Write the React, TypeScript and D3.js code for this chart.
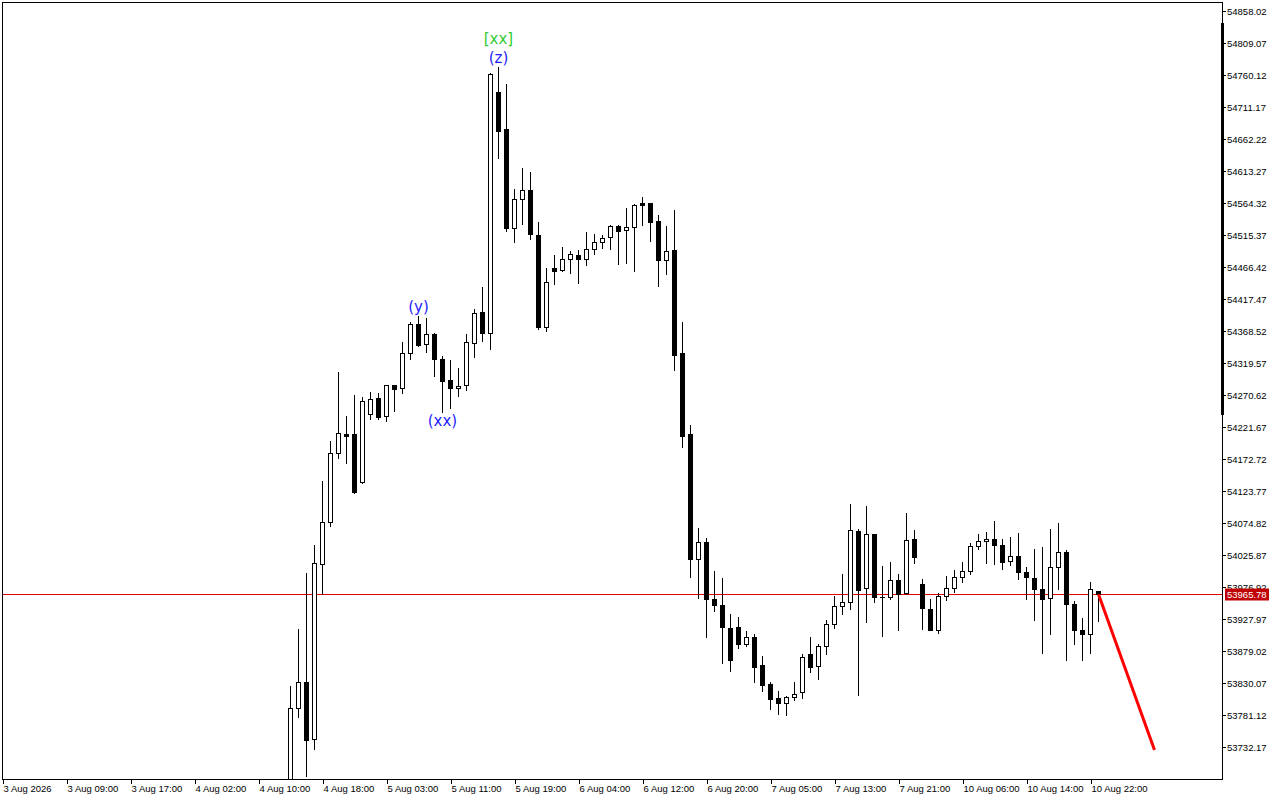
import React, { useRef, useEffect } from "react";
import * as d3 from "d3";

// hourly candles, first one sits in bar slot 36 (3 Aug 2026 00:00 = slot 0)
const FIRST_BAR = 36;

const opens = [
  53651.10, 53791.36, 53831.14, 53743.94, 54012.10, 54075.89, 54181.44, 54210.96, 54210.96, 54137.08,
  54241.10, 54265.57, 54238.49, 54285.46, 54280.87, 54334.41, 54378.77, 54348.17, 54363.47, 54325.23,
  54293.11, 54280.87, 54285.92, 54349.70, 54397.58, 54365.00, 54733.66, 54677.06, 54525.62, 54569.98,
  54583.75, 54515.37, 54374.18, 54464.89, 54461.37, 54478.20, 54484.32, 54478.20, 54493.50, 54504.20,
  54511.85, 54528.68, 54523.48, 54527.15, 54564.32, 54564.32, 54536.79, 54476.67, 54492.42, 54335.32,
  54210.96, 54020.21, 54045.29, 53958.10, 53948.92, 53913.74, 53915.27, 53889.26, 53899.97, 53857.14,
  53828.08, 53806.66, 53799.01, 53808.19, 53815.84, 53874.43, 53856.53, 53886.20, 53919.86, 53947.39,
  53953.51, 54062.12, 53974.93, 54057.53, 53961.16, 53961.16, 53987.16, 53967.28, 54049.88, 53981.05,
  53942.80, 53910.68, 53962.69, 53974.93, 53991.75, 54000.93, 54039.18, 54046.82, 54049.88, 54040.70,
  54016.23, 54023.88, 53999.40, 53990.22, 53973.40, 53959.63, 54007.05, 54030.00, 53950.45, 53910.68,
  53904.56, 53970.34,
];

const highs = [
  53825.48, 53912.67, 53997.87, 54041.16, 54139.06, 54200.25, 54305.34, 54238.49, 54270.62, 54268.02,
  54274.75, 54273.22, 54285.92, 54285.92, 54351.23, 54382.75, 54391.92, 54387.95, 54365.46, 54330.28,
  54324.16, 54312.38, 54363.47, 54402.17, 54435.37, 54762.72, 54772.82, 54745.90, 54585.74, 54617.86,
  54611.74, 54535.26, 54464.89, 54484.78, 54497.01, 54491.35, 54492.42, 54519.96, 54516.90, 54514.91,
  54531.13, 54531.13, 54556.67, 54562.79, 54573.50, 54564.32, 54545.96, 54529.14, 54553.61, 54382.75,
  54224.73, 54066.71, 54051.41, 54001.39, 53991.14, 53935.61, 53931.03, 53909.61, 53905.02, 53871.37,
  53832.05, 53817.83, 53810.18, 53831.59, 53874.43, 53900.43, 53889.72, 53926.44, 53963.15, 53996.80,
  54103.42, 54065.18, 54100.36, 54057.53, 54009.04, 54015.16, 53996.80, 54089.65, 54063.65, 53988.69,
  53958.10, 53967.28, 53993.74, 54002.92, 54015.16, 54043.76, 54057.53, 54060.59, 54077.42, 54049.88,
  54052.94, 54059.06, 54007.05, 54034.59, 54037.64, 54065.18, 54074.36, 54033.06, 53955.04, 53929.04,
  53984.11, 53970.34,
];

const lows = [
  53635.80, 53778.51, 53687.80, 53728.65, 53965.75, 54070.69, 54174.71, 54167.06, 54121.47, 54136.00,
  54233.45, 54233.45, 54231.31, 54246.60, 54274.14, 54325.23, 54345.57, 54336.85, 54300.14, 54245.07,
  54250.27, 54269.09, 54277.81, 54328.29, 54353.22, 54340.98, 54632.70, 54521.95, 54505.12, 54532.66,
  54509.71, 54371.58, 54368.98, 54440.87, 54460.30, 54457.70, 54442.40, 54469.94, 54485.85, 54495.94,
  54494.41, 54471.47, 54473.00, 54460.76, 54531.13, 54506.19, 54437.36, 54455.71, 54308.86, 54190.62,
  53991.75, 53959.63, 53899.97, 53940.66, 53860.20, 53848.88, 53884.06, 53886.66, 53832.05, 53818.29,
  53790.75, 53783.10, 53781.11, 53804.06, 53807.12, 53846.43, 53836.18, 53873.97, 53913.74, 53935.16,
  53942.80, 53811.71, 53923.84, 53953.51, 53901.50, 53958.10, 53911.60, 53965.75, 54013.17, 53912.21,
  53910.68, 53906.09, 53956.57, 53968.81, 53984.11, 53996.34, 54034.59, 54013.17, 54011.64, 54003.99,
  54010.11, 53988.69, 53958.10, 53925.98, 53875.50, 53904.56, 53973.40, 53864.79, 53890.18, 53864.79,
  53875.50, 53924.45,
];

const closes = [
  53791.37, 53831.14, 53742.41, 54013.17, 54076.81, 54181.44, 54212.03, 54208.36, 54122.70, 54260.98,
  54264.04, 54236.51, 54285.46, 54279.34, 54335.32, 54378.77, 54347.10, 54363.47, 54325.23, 54292.49,
  54280.87, 54284.39, 54351.23, 54395.60, 54365.00, 54761.19, 54674.92, 54525.62, 54570.44, 54583.75,
  54516.44, 54375.10, 54443.02, 54460.76, 54478.20, 54485.85, 54478.20, 54493.50, 54504.20, 54510.32,
  54528.68, 54521.95, 54527.15, 54561.26, 54561.26, 54535.72, 54477.59, 54490.90, 54332.27, 54208.36,
  54019.29, 54045.29, 53958.10, 53948.92, 53915.27, 53864.79, 53889.26, 53899.97, 53855.00, 53827.46,
  53806.05, 53799.01, 53808.19, 53812.78, 53869.38, 53855.00, 53886.20, 53919.86, 53947.39, 53953.51,
  54063.65, 53971.87, 54057.53, 53961.16, 53961.16, 53987.16, 53965.75, 54048.35, 54022.35, 53944.33,
  53910.68, 53962.69, 53974.93, 53991.75, 54000.93, 54039.18, 54046.82, 54049.88, 54040.70, 54014.70,
  54023.88, 53999.40, 53991.75, 53973.40, 53958.10, 54007.05, 54030.00, 53950.45, 53910.68, 53904.56,
  53973.40, 53965.78,
];

const priceTicks = [
  54858.02, 54809.07, 54760.12, 54711.17, 54662.22, 54613.27, 54564.32, 54515.37,
  54466.42, 54417.47, 54368.52, 54319.57, 54270.62, 54221.67, 54172.72, 54123.77,
  54074.82, 54025.87, 53976.92, 53927.97, 53879.02, 53830.07, 53781.12, 53732.17,
];

const timeTickBars = [0, 8, 16, 24, 32, 40, 48, 56, 64, 72, 80, 88, 96, 104, 112, 120, 128, 136];
const timeTickLabels = [
  "3 Aug 2026", "3 Aug 09:00", "3 Aug 17:00", "4 Aug 02:00", "4 Aug 10:00", "4 Aug 18:00",
  "5 Aug 03:00", "5 Aug 11:00", "5 Aug 19:00", "6 Aug 04:00", "6 Aug 12:00", "6 Aug 20:00",
  "7 Aug 05:00", "7 Aug 13:00", "7 Aug 21:00", "10 Aug 06:00", "10 Aug 14:00", "10 Aug 22:00",
];

const lastPrice = 53965.78;
// projected move drawn from the last candle
const forecastBar = 144;
const forecastPrice = 53727.57;
// highlighted span on the price scale
const scaleMark = [54839.67, 54240.02];

// wave labels: candle number (1-based), text, colour, above/below, stack level
const waveCandle = [27, 27, 17, 20];
const waveText = ["(z)", "[xx]", "(y)", "(xx)"];
const waveColor = ["#1e1eff", "#32cd32", "#1e1eff", "#1e1eff"];
const waveAbove = [true, true, true, false];
const waveLevel = [0, 1, 0, 0];

export default function App() {
  const svgRef = useRef<SVGSVGElement>(null);

  useEffect(() => {
    if (!svgRef.current) return;
    const svg = d3.select(svgRef.current);
    svg.selectAll("*").remove();

    const width = 1280;
    const height = 800;
    const left = 2, right = 1222, top = 2, bottom = 779;
    const axisFont = "'Liberation Sans', Arial, sans-serif";

    const xScale = d3.scaleLinear().domain([0, 1]).range([2.5, 10.5]);
    const yScale = d3.scaleLinear()
      .domain([priceTicks[priceTicks.length - 1], priceTicks[0]])
      .range([747, 11]);

    svg.append("rect").attr("width", width).attr("height", height).attr("fill", "#fff");

    svg.append("defs").append("clipPath").attr("id", "plot")
      .append("rect")
      .attr("x", left).attr("y", top)
      .attr("width", right - left).attr("height", bottom - top);

    const plot = svg.append("g").attr("clip-path", "url(#plot)");

    // last price line
    const yLast = Math.round(yScale(lastPrice)) + 0.5;
    plot.append("line")
      .attr("x1", left).attr("x2", right)
      .attr("y1", yLast).attr("y2", yLast)
      .attr("stroke", "#e00000").attr("stroke-width", 1);

    // candles
    const candles = opens.map((o, i) => ({
      bar: FIRST_BAR + i, o, h: highs[i], l: lows[i], c: closes[i],
    }));

    const cg = plot.append("g");
    candles.forEach(d => {
      const cx = xScale(d.bar);
      cg.append("line")
        .attr("x1", cx).attr("x2", cx)
        .attr("y1", Math.round(yScale(d.h))).attr("y2", Math.round(yScale(d.l)) + 1)
        .attr("stroke", "#000").attr("stroke-width", 1);
      const yTop = Math.round(yScale(Math.max(d.o, d.c))) + 0.5;
      const yBot = Math.round(yScale(Math.min(d.o, d.c))) + 0.5;
      const bull = d.c >= d.o;
      if (yBot - yTop < 1) {
        cg.append("line")
          .attr("x1", cx - 2.5).attr("x2", cx + 2.5)
          .attr("y1", yTop).attr("y2", yTop)
          .attr("stroke", "#000").attr("stroke-width", 1);
      } else {
        cg.append("rect")
          .attr("x", cx - 2).attr("width", 4)
          .attr("y", yTop).attr("height", yBot - yTop)
          .attr("fill", bull ? "#fff" : "#000")
          .attr("stroke", "#000").attr("stroke-width", 1);
      }
    });

    // forecast line
    plot.append("line")
      .attr("x1", xScale(FIRST_BAR + closes.length - 1))
      .attr("y1", yScale(lastPrice))
      .attr("x2", xScale(forecastBar))
      .attr("y2", yScale(forecastPrice))
      .attr("stroke", "#ff0000").attr("stroke-width", 3);

    // wave labels
    waveText.forEach((t, i) => {
      const d = candles[waveCandle[i] - 1];
      const y = waveAbove[i]
        ? yScale(d.h) - 8.5 - waveLevel[i] * 19.5
        : yScale(d.l) + 9.5;
      plot.append("text")
        .attr("x", xScale(d.bar))
        .attr("y", y)
        .attr("text-anchor", "middle")
        .attr("dominant-baseline", "central")
        .style("font-family", "'DejaVu Sans', sans-serif")
        .style("font-size", "15px")
        .style("fill", waveColor[i])
        .text(t);
    });

    // frame
    svg.append("rect")
      .attr("x", left + 0.5).attr("y", top + 0.5)
      .attr("width", right - left).attr("height", bottom - top)
      .attr("fill", "none").attr("stroke", "#000").attr("stroke-width", 1);

    // price scale highlight
    svg.append("line")
      .attr("x1", right + 0.5).attr("x2", right + 0.5)
      .attr("y1", yScale(scaleMark[0])).attr("y2", yScale(scaleMark[1]))
      .attr("stroke", "#000").attr("stroke-width", 3);

    // price axis
    const ya = svg.append("g");
    priceTicks.forEach(p => {
      const y = Math.round(yScale(p)) + 0.5;
      ya.append("line")
        .attr("x1", right).attr("x2", right + 4)
        .attr("y1", y).attr("y2", y)
        .attr("stroke", "#000");
      ya.append("text")
        .attr("x", right + 5)
        .attr("y", y)
        .attr("dominant-baseline", "central")
        .style("font-family", axisFont)
        .style("font-size", "9.5px")
        .style("fill", "#000")
        .text(p.toFixed(2));
    });

    // last price tag
    ya.append("rect")
      .attr("x", right + 3).attr("y", yLast - 6)
      .attr("width", 44).attr("height", 12)
      .attr("fill", "#c00000");
    ya.append("text")
      .attr("x", right + 5)
      .attr("y", yLast)
      .attr("dominant-baseline", "central")
      .style("font-family", axisFont)
      .style("font-size", "9.5px")
      .style("fill", "#fff")
      .text(lastPrice.toFixed(2));

    // time axis
    const xa = svg.append("g");
    timeTickBars.forEach((b, i) => {
      const x = Math.round(xScale(b)) + 0.5;
      xa.append("line")
        .attr("x1", x).attr("x2", x)
        .attr("y1", bottom).attr("y2", bottom + 5)
        .attr("stroke", "#000");
      xa.append("text")
        .attr("x", x)
        .attr("y", 792)
        .style("font-family", axisFont)
        .style("font-size", "9.5px")
        .style("fill", "#000")
        .text(timeTickLabels[i]);
    });
  }, []);

  return (
    <div style={{ position: "fixed", left: 0, top: 0, width: 1280, height: 800, background: "#fff" }}>
      <svg ref={svgRef} width={1280} height={800} style={{ display: "block" }} />
    </div>
  );
}
